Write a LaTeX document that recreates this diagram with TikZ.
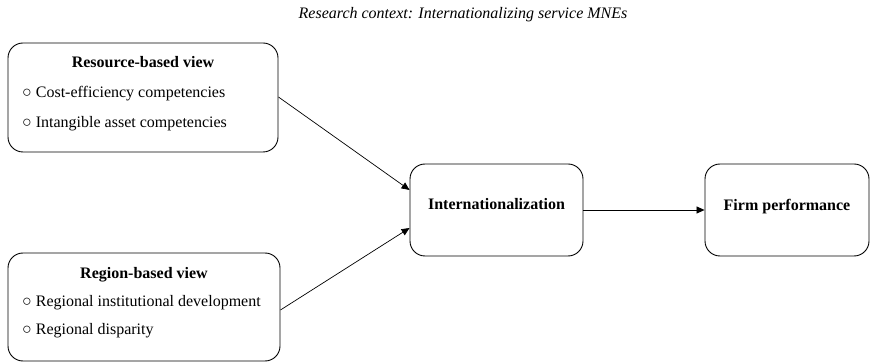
\documentclass[tikz,border=0pt]{standalone}
\usepackage{fontspec}
\setmainfont{Liberation Serif}
\usetikzlibrary{arrows.meta}
\begin{document}
\begin{tikzpicture}[x=1pt,y=-1pt,
  box/.style={draw,line width=0.9pt,rounded corners=15pt,inner sep=0pt},
  conn/.style={line width=0.7pt,-{Triangle[length=8pt,width=7pt]}},
  txt/.style={inner sep=0pt,anchor=base west,font=\fontsize{16}{19}\selectfont},
  hd/.style={inner sep=0pt,anchor=base,font=\fontsize{16}{19}\selectfont\bfseries}]
\useasboundingbox (0,0) rectangle (873,363);
\node[inner sep=0pt,anchor=base,font=\fontsize{16}{19}\selectfont\itshape] (title) at (463,19) {Research context: Internationalizing service MNEs};
% boxes
\node[box,minimum width=270pt,minimum height=109pt] (rbv) at (143,97.5) {};
\node[box,minimum width=272pt,minimum height=108pt] (reg) at (144,307) {};
\node[box,minimum width=173pt,minimum height=92pt] (int) at (496.5,210) {};
\node[box,minimum width=164pt,minimum height=92pt] (firm) at (787,210) {};
% texts
\node[hd] (rbvh) at (143,68) {Resource-based view};
\node[txt] (rbv1) at (22,98) {○ Cost-efficiency competencies};
\node[txt] (rbv2) at (22,128) {○ Intangible asset competencies};
\node[hd] (regh) at (144,279) {Region-based view};
\node[txt] (reg1) at (22,307) {○ Regional institutional development};
\node[txt] (reg2) at (22,335) {○ Regional disparity};
\node[hd] (inth) at (496.5,210) {Internationalization};
\node[hd] (firmh) at (787,211) {Firm performance};
% connectors
\coordinate (a1s) at (rbv.east |- 0,97);
\coordinate (a1e) at (int.west |- 0,190);
\coordinate (a2s) at (reg.east |- 0,310);
\coordinate (a2e) at (int.west |- 0,228);
\draw[conn] (a1s) -- (a1e);
\draw[conn] (a2s) -- (a2e);
\draw[conn] (int.east) -- (firm.west);
\end{tikzpicture}
\end{document}
